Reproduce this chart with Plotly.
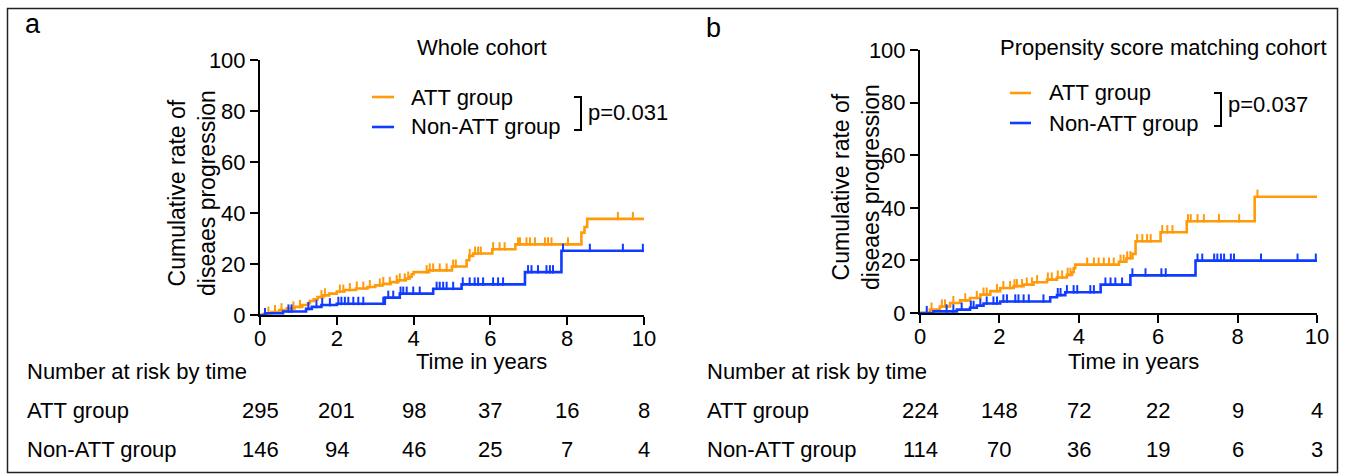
import numpy as np
import plotly.graph_objects as go

W, H = 1345, 474

# ---------------- data ----------------
years = [0, 2, 4, 6, 8, 10]

# Panel a: Whole cohort
att_a_t = [0, 0.1, 0.3, 0.5, 0.7, 0.9, 1.1, 1.25, 1.3, 1.4, 1.5, 1.65, 1.8, 2.0, 2.2, 2.5, 2.8, 3.0,
           3.2, 3.4, 3.6, 3.8, 3.9, 3.95, 4.0, 4.4, 5.0, 5.38, 5.45, 5.55, 6.05, 6.65, 8.37, 8.45, 8.52]
att_a_v = [0, 0.6, 1.2, 1.9, 2.6, 3.2, 3.9, 4.6, 5.5, 6.2, 7.0, 7.7, 8.4, 9.2, 9.8, 10.4, 11.0, 11.6,
           12.2, 12.9, 13.6, 14.3, 15.0, 16.0, 16.8, 17.5, 19.0, 21.5, 23.2, 24.1, 25.8, 27.7, 32.3, 34.5, 37.7]
att_a_cens = [0.22, 0.39, 0.56, 0.87, 1.04, 1.6, 1.69, 2.08, 2.17, 2.34, 2.52, 2.69, 2.86, 3.12, 3.21,
              3.38, 3.56, 3.64, 3.77, 3.86, 4.34, 4.42, 4.51, 4.68, 4.86, 5.03, 5.1, 5.46, 5.6, 5.68,
              5.75, 6.07, 6.24, 6.37, 6.72, 6.77, 6.94, 7.03, 7.16, 7.42, 7.5, 7.59, 8.02, 9.32, 9.71]
natt_a_t = [0, 0.15, 0.6, 1.2, 1.35, 1.6, 2.0, 3.25, 3.64, 4.51, 5.25, 6.9, 7.85]
natt_a_v = [0, 0.7, 1.4, 2.4, 3.2, 3.9, 4.4, 6.8, 8.4, 10.3, 12.0, 16.8, 25.2]
natt_a_cens = [0.13, 0.74, 0.82, 1.26, 1.47, 1.62, 1.82, 2.04, 2.12, 2.21, 2.3, 2.43, 2.56, 2.69,
               3.21, 3.34, 3.47, 3.66, 3.73, 3.82, 3.99, 4.16, 4.6, 4.68, 4.77, 4.86, 5.03, 5.28,
               5.46, 5.59, 5.68, 5.81, 6.07, 6.2, 6.33, 6.98, 7.07, 7.24, 7.46, 7.55, 7.63, 7.89,
               8.59, 9.45, 9.97]

# Panel b: Propensity score matching cohort
att_b_t = [0, 0.25, 0.5, 0.76, 1.01, 1.26, 1.52, 1.77, 2.02, 2.36, 2.61, 2.86, 3.2, 3.45, 3.7, 3.83,
           3.87, 3.91, 5.01, 5.2, 5.35, 5.43, 6.06, 6.72, 8.43]
att_b_v = [0, 1.3, 2.5, 3.8, 4.8, 5.7, 7.0, 8.3, 9.5, 10.2, 10.8, 11.7, 12.7, 13.5, 14.5, 15.5,
           17.0, 18.4, 19.5, 20.8, 22.5, 27.3, 30.7, 34.9, 44.2]
att_b_cens = [0.29, 0.55, 0.63, 0.84, 1.14, 1.43, 1.6, 1.68, 1.94, 2.1, 2.27, 2.38, 2.44, 2.57, 2.69,
              2.82, 2.95, 3.22, 3.32, 3.47, 3.58, 3.72, 3.79, 4.21, 4.38, 4.5, 4.63, 4.76, 4.88,
              5.05, 5.13, 5.22, 5.3, 5.47, 5.6, 5.72, 5.81, 6.1, 6.23, 6.36, 6.75, 6.82, 6.99,
              7.15, 7.53, 8.04, 8.5]
natt_b_t = [0, 0.34, 0.93, 1.26, 1.43, 1.6, 2.02, 3.28, 3.45, 3.66, 4.55, 5.3, 6.94]
natt_b_v = [0, 0.6, 1.3, 2.0, 2.8, 3.6, 4.4, 6.0, 6.8, 7.9, 10.8, 14.3, 19.9]
natt_b_cens = [0.17, 0.67, 0.84, 1.05, 1.28, 1.35, 1.52, 1.68, 1.85, 1.94, 2.1, 2.19, 2.4, 2.48,
               2.61, 2.74, 3.11, 3.47, 3.54, 3.7, 3.87, 3.96, 4.29, 4.38, 4.67, 4.8, 4.92, 5.09,
               5.35, 5.68, 6.08, 6.19, 6.99, 7.11, 7.41, 7.49, 7.58, 7.66, 7.83, 7.91, 8.59, 9.51, 9.97]

follow_up_end = 10

risk_att_a = [295, 201, 98, 37, 16, 8]
risk_natt_a = [146, 94, 46, 25, 7, 4]
risk_att_b = [224, 148, 72, 22, 9, 4]
risk_natt_b = [114, 70, 36, 19, 6, 3]

titles = ["Whole cohort", "Propensity score matching cohort"]
p_values = ["p=0.031", "p=0.037"]
group_names = ["ATT group", "Non-ATT group"]

# ---------------- style ----------------
ORANGE = "#FF9A0A"
BLUE = "#0F3CFF"
FONT = "Liberation Sans, Arial, sans-serif"
FS = 22


def px(x):
    return x / W


def py(y):
    return 1 - y / H


def step_at(ts, vs, t):
    i = np.searchsorted(np.array(ts), t, side="right") - 1
    return vs[max(i, 0)]


fig = go.Figure()

panels = [
    dict(xa="x", ya="y", curves=[(att_a_t, att_a_v, att_a_cens, ORANGE), (natt_a_t, natt_a_v, natt_a_cens, BLUE)]),
    dict(xa="x2", ya="y2", curves=[(att_b_t, att_b_v, att_b_cens, ORANGE), (natt_b_t, natt_b_v, natt_b_cens, BLUE)]),
]

for pnl in panels:
    for ts, vs, cens, col in pnl["curves"]:
        fig.add_trace(go.Scatter(
            x=list(ts) + [follow_up_end], y=list(vs) + [vs[-1]],
            mode="lines", line=dict(color=col, width=2.6, shape="hv"),
            xaxis=pnl["xa"], yaxis=pnl["ya"], showlegend=False, hoverinfo="skip"))
        cy = [step_at(ts, vs, c) + 1.1 for c in cens]
        fig.add_trace(go.Scatter(
            x=cens, y=cy, mode="markers",
            marker=dict(symbol="line-ns", size=6, line=dict(color=col, width=2)),
            xaxis=pnl["xa"], yaxis=pnl["ya"], showlegend=False, hoverinfo="skip", cliponaxis=False))

axis_common = dict(showline=True, linewidth=2, linecolor="black", ticks="outside", ticklen=8,
                   tickwidth=2, tickcolor="black", showgrid=False, zeroline=False, automargin=False,
                   tickfont=dict(family=FONT, size=FS, color="black"), fixedrange=True)

fig.update_layout(
    width=W, height=H, margin=dict(l=0, r=0, t=0, b=0, pad=0, autoexpand=False),
    paper_bgcolor="white", plot_bgcolor="white",
    font=dict(family=FONT, size=FS, color="black"),
    xaxis=dict(domain=[px(260), px(644)], range=[0, 10], tickvals=years, anchor="y",
               ticklabelstandoff=-5, **axis_common),
    yaxis=dict(domain=[py(315), py(60)], range=[0, 100], dtick=20, anchor="x", **axis_common),
    xaxis2=dict(domain=[px(920), px(1317)], range=[0, 10], tickvals=years, anchor="y2",
                ticklabelstandoff=-5, **axis_common),
    yaxis2=dict(domain=[py(313), py(50)], range=[0, 100], dtick=20, anchor="x2", **axis_common),
)

ann = []
shapes = []


def text(x, y, s, size=FS, xanchor="center", angle=0, xref="paper"):
    ann.append(dict(x=x if xref != "paper" else px(x), y=py(y), xref=xref, yref="paper", text=s,
                    showarrow=False, xanchor=xanchor, yanchor="middle", textangle=angle,
                    font=dict(family=FONT, size=size, color="black")))


# outer frame
shapes.append(dict(type="rect", xref="paper", yref="paper", x0=px(7.5), x1=px(1337.5), y0=py(472.5), y1=py(8.5),
                   line=dict(color="#222", width=1.5)))

# panel letters
text(33, 24, "a", size=27)
text(713, 28, "b", size=27)

# layout for each panel
cfg = [
    dict(title=(482, 48), ytitle=(192, 193), leg_x=(372, 394), leg_tx=409, leg_y=(97, 127),
         br_x=581, br_y=(97, 130), p_x=586, p_y=112, xt=(482, 361), risk_x=25, xa="x",
         risks=(risk_att_a, risk_natt_a)),
    dict(title=(1163, 48), ytitle=(856, 187), leg_x=(1010, 1031), leg_tx=1047, leg_y=(93, 123),
         br_x=1221, br_y=(93, 126), p_x=1226, p_y=105, xt=(1133, 361), risk_x=705, xa="x2",
         risks=(risk_att_b, risk_natt_b)),
]

for i, c in enumerate(cfg):
    text(c["title"][0], c["title"][1], titles[i])
    text(c["ytitle"][0], c["ytitle"][1], "Cumulative rate of<br>diseaes progression", size=23, angle=-90)
    for col, yy, name in zip([ORANGE, BLUE], c["leg_y"], group_names):
        shapes.append(dict(type="line", xref="paper", yref="paper", x0=px(c["leg_x"][0]), x1=px(c["leg_x"][1]),
                           y0=py(yy), y1=py(yy), line=dict(color=col, width=2.6)))
        text(c["leg_tx"], yy, name, xanchor="left")
    bx = c["br_x"]
    y0, y1 = c["br_y"]
    shapes.append(dict(type="path", xref="paper", yref="paper",
                       path=f"M{px(bx-7)},{py(y0)} L{px(bx)},{py(y0)} L{px(bx)},{py(y1)} L{px(bx-7)},{py(y1)}",
                       line=dict(color="black", width=2)))
    text(c["p_x"], c["p_y"], p_values[i], xanchor="left")
    text(c["xt"][0], c["xt"][1], "Time in years")
    text(c["risk_x"], 371, "Number at risk by time", xanchor="left")
    text(c["risk_x"], 410, group_names[0], xanchor="left")
    text(c["risk_x"], 449, group_names[1], xanchor="left")
    for row_y, vals in zip([410, 449], c["risks"]):
        for yr, v in zip(years, vals):
            text(yr, row_y, str(v), xref=c["xa"])

fig.update_layout(annotations=ann, shapes=shapes)
fig.write_html(
    "out.html",
    config={"displayModeBar": False},
    post_script="document.documentElement.style.margin='0';document.body.style.margin='0';",
)
